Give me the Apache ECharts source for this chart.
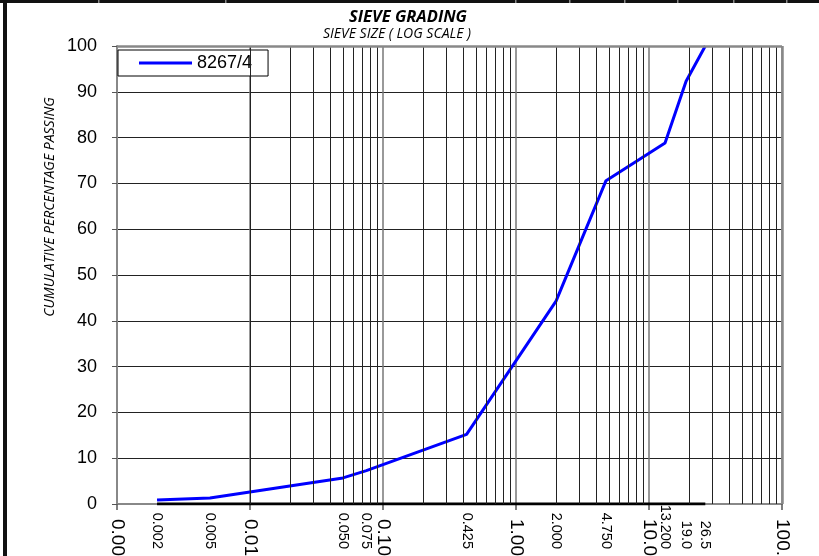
<!DOCTYPE html>
<html>
<head>
<meta charset="utf-8">
<script src="https://cdn.jsdelivr.net/npm/echarts@6/dist/echarts.min.js"></script>
<style>
  html, body { margin: 0; padding: 0; background: #fff; }
  #chart { width: 819px; height: 556px; }
</style>
</head>
<body>
<div id="chart"></div>
<script>
// Sieve sizes (mm) and cumulative percentage passing for sample 8267/4
const sieveSizes   = [0.002, 0.005, 0.050, 0.075, 0.425, 2.000, 4.750, 13.200, 19.0, 26.5];
const sieveLabels  = ['0.002', '0.005', '0.050', '0.075', '0.425', '2.000', '4.750', '13.200', '19.0', '26.5'];
const passing      = [0.9, 1.3, 5.7, 7.3, 15.2, 44.3, 70.6, 78.8, 92.3, 100];
const baseline     = [0, 0, 0, 0, 0, 0, 0, 0, 0, 0];
const sampleName   = '8267/4';

// Log-axis decades and their printed labels
const decadeTicks  = [0.001, 0.01, 0.1, 1, 10, 100];
const decadeLabels = ['0.001', '0.01', '0.10', '1.00', '10.0', '100.0'];
const yTicks       = [0, 10, 20, 30, 40, 50, 60, 70, 80, 90, 100];

// Intermediate log grid lines (2..9 in each decade)
const minorGrid = [];
for (let d = 0; d < decadeTicks.length - 1; d++) {
  for (let m = 2; m <= 9; m++) minorGrid.push(+(decadeTicks[d] * m).toPrecision(3));
}

function decadeLabel(v) {
  let best = 0, diff = Infinity;
  decadeTicks.forEach((t, i) => {
    const dd = Math.abs(Math.log10(v) - Math.log10(t));
    if (dd < diff) { diff = dd; best = i; }
  });
  return decadeLabels[best];
}

const chart = echarts.init(document.getElementById('chart'), null, { renderer: 'canvas' });

// top and left frame with cell separators along the top bar
const topSeparators = [98, 225, 515, 569, 624, 677, 733, 786];
const frame = [
  { type: 'rect', shape: { x: 0, y: 0, width: 819, height: 3 }, style: { fill: '#111' }, silent: true },
  { type: 'rect', shape: { x: 3, y: 0, width: 4, height: 556 }, style: { fill: '#111' }, silent: true }
].concat(topSeparators.map(x => ({
  type: 'rect', shape: { x: x, y: 0, width: 1.5, height: 3 }, style: { fill: '#888' }, silent: true
})));

chart.setOption({
  animation: false,
  backgroundColor: '#fff',
  grid: { left: 117, top: 46, right: 37, bottom: 52, show: false, containLabel: false, outerBoundsMode: 'none' },
  graphic: frame.concat([
    {
      type: 'text', x: 408, y: 9, silent: true,
      style: { text: 'SIEVE GRADING', textAlign: 'center', font: 'italic bold 16.5px "Open Sans"', fill: '#000' }
    },
    {
      type: 'text', x: 397, y: 27, silent: true,
      style: { text: 'SIEVE SIZE ( LOG SCALE )', textAlign: 'center', font: 'italic 14px "Open Sans"', fill: '#000' }
    },
    {
      type: 'text', x: 50, y: 207, rotation: Math.PI / 2, silent: true,
      style: { text: 'CUMULATIVE PERCENTAGE PASSING', textAlign: 'center', textVerticalAlign: 'middle', font: 'italic 14px "Open Sans"', fill: '#000' }
    }
  ]),
  legend: {
    show: true,
    data: [sampleName],
    icon: 'rect',
    left: 118, top: 50,
    orient: 'horizontal',
    padding: [4, 16, 4, 21],
    itemWidth: 53, itemHeight: 3, itemGap: 5,
    backgroundColor: '#fff',
    borderColor: '#000', borderWidth: 1,
    textStyle: { fontFamily: '"Liberation Sans", Arial', fontSize: 18, lineHeight: 18, color: '#000' }
  },
  xAxis: {
    type: 'log', logBase: 10, min: 0.001, max: 100, interval: 1,
    axisLine: { show: true, onZero: false, lineStyle: { color: '#888', width: 2 } },
    axisTick: { show: true, length: 6, lineStyle: { color: '#555', width: 1.5 } },
    axisLabel: {
      rotate: -90, margin: 15, color: '#000', fontSize: 19,
      fontFamily: '"Liberation Sans", Arial',
      formatter: decadeLabel
    },
    splitLine: { show: true, lineStyle: { color: '#777', width: 1.5 } },
    minorTick: { show: false }, minorSplitLine: { show: false }
  },
  yAxis: {
    type: 'value', min: 0, max: 100, interval: 10,
    axisLine: { show: true, lineStyle: { color: '#888', width: 2 } },
    axisTick: { show: true, length: 5, lineStyle: { color: '#555', width: 1 } },
    axisLabel: {
      margin: 20, color: '#000', fontSize: 18, fontFamily: '"Liberation Sans", Arial',
      formatter: v => (yTicks.indexOf(v) >= 0 ? String(v) : '')
    },
    splitLine: { show: true, lineStyle: { color: '#222', width: 1 } }
  },
  series: [
    {
      // minor log grid and the plot border, drawn on the chart's scales
      type: 'line', data: [], silent: true,
      markLine: {
        silent: true, symbol: 'none', animation: false,
        label: { show: false },
        lineStyle: { color: '#222', width: 1, type: 'solid' },
        data: minorGrid.map(v => ({ xAxis: v }))
          .concat([
            { xAxis: 100, lineStyle: { color: '#888', width: 2.5 } },
            { yAxis: 100, lineStyle: { color: '#888', width: 2.5 } }
          ])
      }
    },
    {
      name: 'zero',
      type: 'line',
      data: sieveSizes.map((s, i) => [s, baseline[i]]),
      showSymbol: false, symbol: 'none', silent: true,
      lineStyle: { color: '#000', width: 3 },
      z: 3
    },
    {
      name: sampleName,
      type: 'line',
      data: sieveSizes.map((s, i) => [s, passing[i]]),
      showSymbol: false, symbol: 'none',
      lineStyle: { color: '#0000ff', width: 3 },
      itemStyle: { color: '#0000ff' },
      z: 4
    },
    {
      // sieve size labels under the axis, bottom-aligned
      type: 'custom', silent: true, clip: false,
      data: sieveSizes.map(s => [s, 0]),
      renderItem: function (params, api) {
        const p = api.coord([api.value(0), 0]);
        return {
          type: 'text',
          x: p[0], y: p[1] + 45,
          rotation: -Math.PI / 2,
          style: {
            text: sieveLabels[params.dataIndex],
            textAlign: 'right', textVerticalAlign: 'middle',
            font: '14.5px "Liberation Sans", Arial', fill: '#000'
          }
        };
      },
      z: 5
    }
  ]
});
</script>
</body>
</html>
